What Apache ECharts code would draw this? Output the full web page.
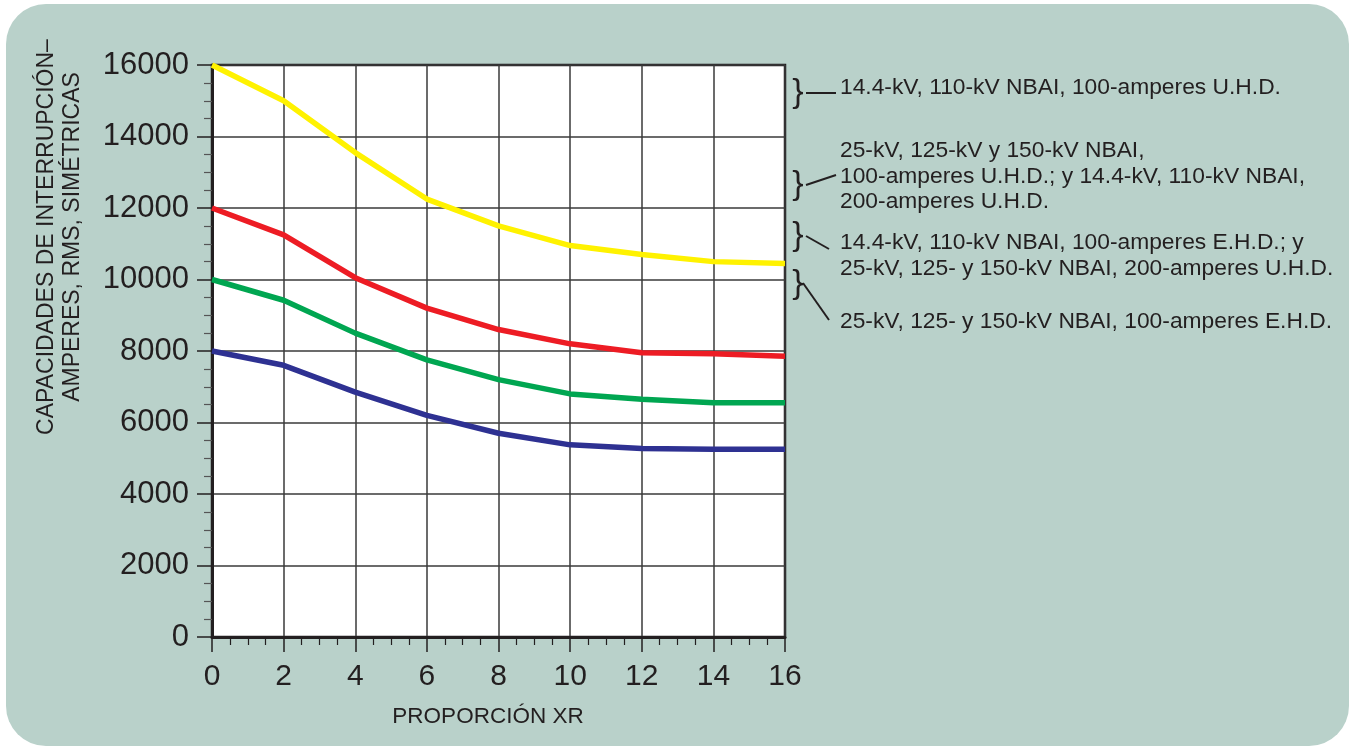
<!DOCTYPE html>
<html>
<head>
<meta charset="utf-8">
<script src="https://cdn.jsdelivr.net/npm/echarts@6/dist/echarts.min.js"></script>
<style>
html,body{margin:0;padding:0;background:#ffffff;}
#panel{position:absolute;left:6px;top:4px;width:1343px;height:742px;background:#b9d1ca;border-radius:40px;}
#chart{position:absolute;left:0;top:0;width:1356px;height:746px;}
</style>
</head>
<body>
<div id="panel"></div>
<div id="chart"></div>
<script>
// ---- data ----
const xr = [0, 2, 4, 6, 8, 10, 12, 14, 16];
const yellowVals = [16000, 15000, 13550, 12250, 11500, 10950, 10700, 10500, 10450];
const redVals    = [12000, 11250, 10050, 9200, 8600, 8200, 7950, 7925, 7850];
const greenVals  = [10000, 9420, 8500, 7750, 7200, 6800, 6650, 6550, 6550];
const blueVals   = [8000, 7600, 6850, 6200, 5700, 5375, 5275, 5250, 5250];
const yAxisName = ['CAPACIDADES DE INTERRUPCIÓN–', 'AMPERES, RMS, SIMÉTRICAS'];
const xAxisName = 'PROPORCIÓN XR';
const notes = [
  ['14.4-kV, 110-kV NBAI, 100-amperes U.H.D.'],
  ['25-kV, 125-kV y 150-kV NBAI,', '100-amperes U.H.D.; y 14.4-kV, 110-kV NBAI,', '200-amperes U.H.D.'],
  ['14.4-kV, 110-kV NBAI, 100-amperes E.H.D.; y', '25-kV, 125- y 150-kV NBAI, 200-amperes U.H.D.'],
  ['25-kV, 125- y 150-kV NBAI, 100-amperes E.H.D.']
];

const FONT = '"Liberation Sans", Arial, Helvetica, sans-serif';
const INK = '#231f20';
const pairs = vals => xr.map((x, i) => [x, vals[i]]);

function mkSeries(vals, color) {
  return {
    type: 'line', data: pairs(vals), symbol: 'none', smooth: false,
    lineStyle: { color: color, width: 5.5 }, z: 3
  };
}

// annotation layout (positions only)
const noteLayout = [
  { x: 840, y: 88,  brace: 93,  line: [[806, 93], [836, 93]] },
  { x: 840, y: 151, brace: 185, line: [[806, 185], [836, 175]] },
  { x: 840, y: 243, brace: 236, line: [[806, 236], [829, 249]] },
  { x: 840, y: 322, brace: 284, line: [[803, 283], [829, 320]] }
];
const LINE_H = 25.5;
const graphics = [];
notes.forEach((lines, i) => {
  const L = noteLayout[i];
  lines.forEach((t, j) => {
    graphics.push({
      type: 'text', x: L.x, y: L.y + j * LINE_H,
      style: { text: t, font: '22.8px ' + FONT, fill: INK,
               textAlign: 'left', textVerticalAlign: 'middle' }
    });
  });
  graphics.push({
    type: 'text', x: 798, y: L.brace,
    style: { text: '}', font: '34px ' + FONT, fill: INK, textAlign: 'center', textVerticalAlign: 'middle' }
  });
  graphics.push({
    type: 'line', shape: { x1: L.line[0][0], y1: L.line[0][1], x2: L.line[1][0], y2: L.line[1][1] },
    style: { stroke: INK, lineWidth: 2 }
  });
});
graphics.push({
  type: 'text', x: 60, y: 237, rotation: Math.PI / 2,
  style: { text: yAxisName.join('\n'), font: '23px ' + FONT, fill: INK,
           textAlign: 'center', textVerticalAlign: 'middle', lineHeight: 26 }
});
graphics.push({
  type: 'text', x: 488, y: 717,
  style: { text: xAxisName, font: '22.5px ' + FONT, fill: INK, textAlign: 'center', textVerticalAlign: 'middle' }
});

const chart = echarts.init(document.getElementById('chart'), null, { renderer: 'canvas' });
chart.setOption({
  backgroundColor: 'transparent',
  animation: false,
  grid: { left: 212, top: 65, right: 571, bottom: 109, show: true,
          backgroundColor: '#ffffff', borderColor: INK, borderWidth: 2.5 },
  xAxis: {
    type: 'value', min: 0, max: 16, interval: 2,
    axisLine: { show: true, lineStyle: { color: INK, width: 3 } },
    axisTick: { show: true, inside: false, length: 15, lineStyle: { color: INK, width: 1.5 } },
    minorTick: { show: true, splitNumber: 4, length: 8, lineStyle: { color: INK, width: 1.2 } },
    axisLabel: { fontSize: 30, color: INK, margin: 25, fontFamily: FONT },
    splitLine: { show: true, lineStyle: { color: '#3a3a3a', width: 1.5 } }
  },
  yAxis: {
    type: 'value', min: 0, max: 16000, interval: 2000,
    axisLine: { show: true, lineStyle: { color: INK, width: 3 } },
    axisTick: { show: true, inside: false, length: 15, lineStyle: { color: INK, width: 1.5 } },
    minorTick: { show: true, splitNumber: 4, length: 8, lineStyle: { color: '#555', width: 1.2 } },
    axisLabel: { fontSize: 31, color: INK, margin: 23, fontFamily: FONT, formatter: v => String(v) },
    splitLine: { show: true, lineStyle: { color: '#3a3a3a', width: 1.5 } }
  },
  series: [
    mkSeries(yellowVals, '#fff200'),
    mkSeries(redVals, '#ed1c24'),
    mkSeries(greenVals, '#00a651'),
    mkSeries(blueVals, '#2e3192')
  ],
  graphic: graphics
});
</script>
</body>
</html>
